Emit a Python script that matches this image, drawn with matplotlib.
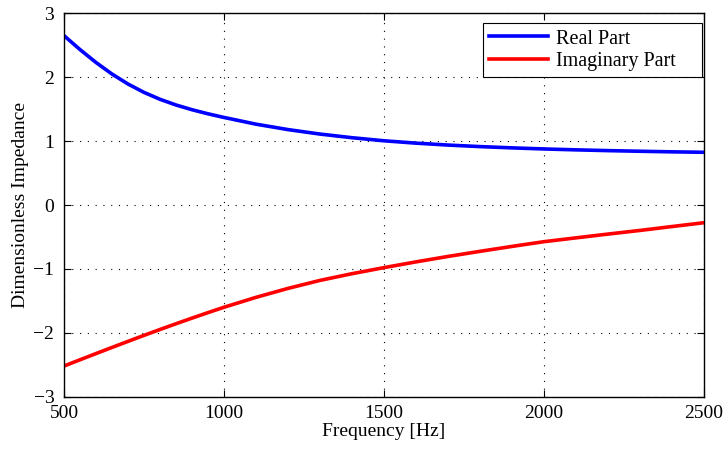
import numpy as np
import matplotlib
matplotlib.use("Agg")
import matplotlib.pyplot as plt

# values
freq = [500, 550, 600, 650, 700, 750, 800, 850, 900, 950, 1000,
        1100, 1200, 1300, 1400, 1500, 1600, 1700, 1800, 1900, 2000,
        2100, 2200, 2300, 2400, 2500]
real_part = [2.65, 2.432, 2.23, 2.049, 1.893, 1.762, 1.654, 1.565, 1.491, 1.427, 1.37,
             1.265, 1.18, 1.11, 1.053, 1.005, 0.968, 0.938, 0.914, 0.894, 0.877,
             0.863, 0.851, 0.841, 0.832, 0.825]
imag_part = [-2.52, -2.422, -2.325, -2.229, -2.134, -2.04, -1.948, -1.858, -1.77, -1.684, -1.6,
             -1.445, -1.305, -1.18, -1.075, -0.98, -0.89, -0.805, -0.725, -0.648, -0.574,
             -0.514, -0.455, -0.398, -0.337, -0.277]

xticks = [500, 1000, 1500, 2000, 2500]
yticks = [-3, -2, -1, 0, 1, 2, 3]

plt.rcParams['font.family'] = ['Liberation Serif', 'DejaVu Serif']
fs = 14

fig = plt.figure(figsize=(7.26, 4.51), dpi=100)
ax = fig.add_axes([0.0882, 0.1204, 0.8815, 0.8501])

ax.plot(freq, real_part, color='#0000ff', lw=2.6, label='Real Part',
        solid_joinstyle='round')
ax.plot(freq, imag_part, color='#ff0000', lw=2.6, label='Imaginary Part',
        solid_joinstyle='round')

ax.set_xlim(500, 2500)
ax.set_ylim(-3, 3)
ax.set_xticks(xticks)
ax.set_yticks(yticks)
ax.set_yticklabels([('\u2212' + str(-v)) if v < 0 else str(v) for v in yticks])
ax.tick_params(direction='in', top=True, right=True, labelsize=fs, length=5, width=0.8)
ax.tick_params(axis='x', pad=6)
ax.tick_params(axis='y', pad=7)
for s in ax.spines.values():
    s.set_linewidth(1.0)

ax.grid(True, linestyle=(0, (1, 6)), color='black', linewidth=0.8)

ax.set_xlabel('Frequency [Hz]', fontsize=fs, labelpad=1)
ax.set_ylabel('Dimensionless Impedance', fontsize=fs, labelpad=3)

# legend box stretched to the reference's width
leg = ax.legend(loc='upper left', bbox_to_anchor=(0.6547, 0, 0.342, 0.9747),
                mode='expand', borderaxespad=0,
                fontsize=14.5, fancybox=False, framealpha=1, edgecolor='black',
                handlelength=2.9, handletextpad=0.4, labelspacing=0.15, borderpad=0.32)
leg.get_frame().set_linewidth(0.8)

fig.savefig('out.png', dpi=100)
